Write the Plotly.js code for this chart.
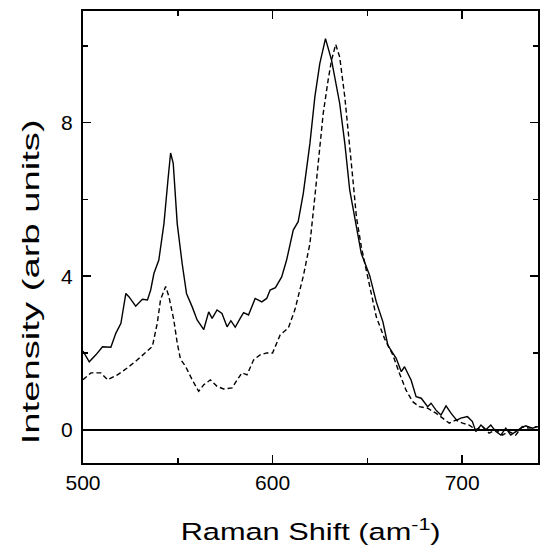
<!DOCTYPE html>
<html>
<head>
<meta charset="utf-8">
<script src="https://cdn.plot.ly/plotly-3.0.1.min.js"></script>
<style>
html, body { margin: 0; padding: 0; background: #fff; }
#chart { width: 540px; height: 546px; }
</style>
</head>
<body>
<div id="chart"></div>
<script>
// Solid curve
var solidX = [500, 500.7, 503.3, 506.8, 510.3, 514.7, 517.3, 520, 522.6, 524.3, 527.8, 531.3, 534, 535.7, 537.4, 540, 542.7, 544.8, 546.2, 547.6, 549.7, 552.3, 554.6, 557.6, 560.2, 563.7, 566.3, 568.1, 570.7, 573.3, 576, 578, 580.3, 582.9, 584.7, 587.3, 590.8, 594.3, 596.9, 598.7, 601.5, 604.8, 607.4, 610.9, 613.5, 616.2, 619.7, 622.3, 624.9, 627.9, 631.1, 635.4, 638.1, 640.7, 644.2, 646.8, 651.2, 654.7, 658.2, 660.8, 665.2, 667.9, 669.6, 673.1, 675.7, 678.4, 681.8, 683.6, 686.2, 688.8, 691.5, 694.1, 697.1, 699.3, 702.8, 705.4, 707.2, 709.9, 712.5, 715.1, 717.8, 720.4, 723, 725.6, 728.3, 730.9, 733.5, 737, 740];
var solidY = [2.05, 1.99, 1.77, 1.95, 2.16, 2.15, 2.51, 2.77, 3.55, 3.46, 3.22, 3.4, 3.38, 3.64, 4.07, 4.42, 5.37, 6.5, 7.21, 6.94, 5.37, 4.33, 3.55, 3.2, 2.86, 2.61, 3.07, 2.9, 3.12, 3.03, 2.68, 2.84, 2.67, 2.9, 3.05, 2.99, 3.42, 3.33, 3.42, 3.64, 3.7, 3.98, 4.42, 5.2, 5.42, 6.16, 7.46, 8.67, 9.54, 10.19, 9.63, 8.5, 7.46, 6.24, 5.29, 4.59, 4.02, 3.33, 2.81, 2.2, 1.86, 1.51, 1.64, 1.29, 0.86, 0.82, 0.6, 0.69, 0.51, 0.38, 0.62, 0.43, 0.25, 0.3, 0.34, 0.21, -0.05, 0.12, 0, 0.12, -0.05, -0.14, 0.04, -0.14, -0.05, 0.04, 0.1, 0.04, 0.08];

// Dashed curve
var dashX = [500, 504.2, 509.4, 513, 518.2, 523.4, 528.7, 534, 536.6, 539.2, 540.9, 543.6, 545.3, 547.9, 549.7, 551.4, 554.1, 557.6, 561, 563.7, 567.2, 570.7, 574.2, 578.6, 581.2, 583.8, 586.5, 590, 593.4, 596.9, 600, 604, 608.3, 611.8, 616.2, 619.7, 622.3, 624.9, 626.7, 629.3, 631.1, 633.3, 635.4, 638.1, 640.7, 642.4, 644.2, 646.8, 649.4, 651.2, 654.7, 659, 663.4, 666.9, 670.4, 673.9, 677.4, 681.8, 686.2, 689.7, 693.2, 696.7, 700.2, 703.7, 707.2, 710.7, 714.2, 717.7, 721.2, 724.7, 728.2, 731.7, 735.2, 739.5];
var dashY = [1.3, 1.48, 1.48, 1.3, 1.43, 1.61, 1.82, 2.04, 2.17, 2.78, 3.39, 3.73, 3.47, 2.86, 2.26, 1.84, 1.65, 1.3, 1.0, 1.17, 1.3, 1.13, 1.06, 1.09, 1.3, 1.48, 1.43, 1.82, 1.95, 2.0, 2.0, 2.47, 2.65, 3.13, 4.0, 4.85, 6.07, 7.28, 8.24, 9.11, 9.63, 10.04, 9.71, 8.67, 7.46, 6.5, 5.55, 4.77, 4.16, 3.72, 2.94, 2.38, 1.95, 1.47, 1.03, 0.73, 0.6, 0.56, 0.43, 0.3, 0.17, 0.25, 0.17, 0.12, 0, 0.08, -0.09, 0, -0.14, -0.05, -0.14, 0.08, 0.04, 0.08];

var xTickVals = [500, 600, 700];
var yTickVals = [0, 4, 8];
var xTitle = 'Raman Shift (am<sup>-1</sup>)';
var yTitle = 'Intensity (arb units)';

var FONT = 'Arial, "Liberation Sans", sans-serif';

var traces = [
  { x: solidX, y: solidY, type: 'scatter', mode: 'lines',
    line: { color: '#000', width: 1.4 }, hoverinfo: 'skip' },
  { x: dashX, y: dashY, type: 'scatter', mode: 'lines',
    line: { color: '#000', width: 1.4, dash: '5px,3px' }, hoverinfo: 'skip' }
];

var axisCommon = {
  showgrid: false, showline: true, linecolor: '#000', linewidth: 2,
  mirror: 'ticks', ticks: 'inside', ticklen: 8, tickwidth: 1.5, tickcolor: '#000',
  tickfont: { family: FONT, size: 21, color: '#000' }
};

var layout = {
  width: 540, height: 546,
  margin: { l: 83, r: 2, t: 11, b: 83, pad: 0 },
  paper_bgcolor: '#fff', plot_bgcolor: '#fff',
  showlegend: false,
  xaxis: Object.assign({}, axisCommon, {
    range: [500, 740], tickmode: 'array', tickvals: xTickVals,
    ticktext: xTickVals.map(String), zeroline: false,
    minor: { dtick: 50, ticks: 'inside', ticklen: 5, tickwidth: 1.5, tickcolor: '#000', showgrid: false }
  }),
  yaxis: Object.assign({}, axisCommon, {
    range: [-0.868, 10.91], tickmode: 'array', tickvals: yTickVals,
    ticktext: yTickVals.map(String), ticklabelstandoff: 4,
    zeroline: true, zerolinecolor: '#000', zerolinewidth: 2,
    minor: { dtick: 2, ticks: 'inside', ticklen: 5, tickwidth: 1.5, tickcolor: '#000', showgrid: false }
  }),
  annotations: [
    { text: xTitle, xref: 'paper', yref: 'paper', x: 0.5, y: -0.148,
      xanchor: 'center', yanchor: 'middle', showarrow: false,
      font: { family: FONT, size: 24.5, color: '#000' } },
    { text: yTitle, xref: 'paper', yref: 'paper', x: -0.1138, y: 0.401,
      xanchor: 'center', yanchor: 'middle', showarrow: false, textangle: -90,
      font: { family: FONT, size: 24.5, color: '#000' } }
  ]
};

Plotly.newPlot('chart', traces, layout, { staticPlot: true, displayModeBar: false }).then(function (gd) {
  // Widen title lettering to match the reference's wide set type
  var texts = gd.querySelectorAll('.annotation-text');
  var lengths = [260, 325];
  texts.forEach(function (t, i) {
    if (lengths[i]) {
      t.setAttribute('textLength', lengths[i]);
      t.setAttribute('lengthAdjust', 'spacingAndGlyphs');
    }
  });
});
</script>
</body>
</html>
